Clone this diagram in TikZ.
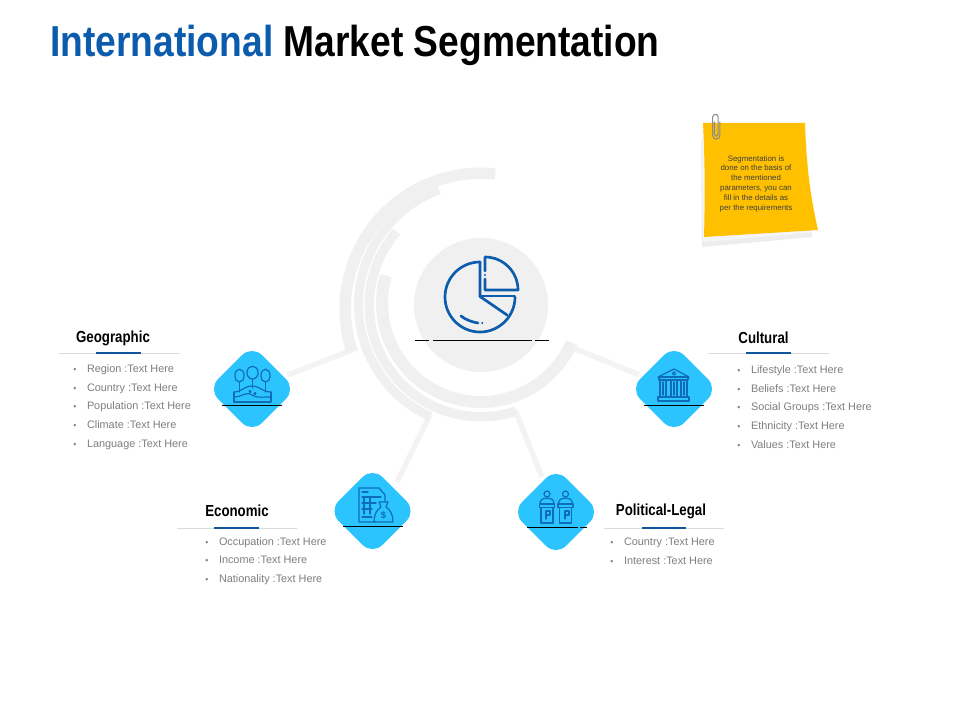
\documentclass[tikz,border=0pt]{standalone}
\usepackage{fontspec}
\setmainfont{Liberation Sans}
\newfontfamily\narrowbold[FakeStretch=0.83]{Liberation Sans Bold}
\newfontfamily\titlebold[FakeStretch=0.858]{Liberation Sans Bold}
\definecolor{ringgray}{HTML}{F0F0F0}
\definecolor{titleblue}{HTML}{0B5CAD}
\definecolor{headblue}{HTML}{11559F}
\definecolor{iconblue}{HTML}{0F6CB8}
\definecolor{diamondblue}{HTML}{2CC4FF}
\definecolor{notey}{HTML}{FFC000}
\definecolor{listgray}{HTML}{7F7F7F}
\tikzset{
  ring/.style={draw=ringgray,line width=#1*0.75pt},
  conn/.style={draw=ringgray!80,line width=4pt,shorten >=3pt},
  badge/.style={shape=rectangle,fill=diamondblue,rotate=45,minimum size=46.5pt,rounded corners=10.5pt,inner sep=0pt},
  heading/.style={font=\narrowbold\fontsize{12}{14}\selectfont,inner sep=0pt,text=black},
  itemlist/.style={font=\fontsize{8.15}{14}\selectfont,text=listgray,align=left,inner sep=0pt,anchor=west},
  rule/.style={draw=black,line width=0.75pt},
  hair/.style={draw=black!14,line width=0.6pt},
  accent/.style={draw=headblue,line width=2.2pt},
  icon/.style={draw=iconblue,line width=0.9pt,line join=round,line cap=round},
  pie/.style={draw=titleblue,line width=2pt,line cap=round,line join=round},
}
\newcommand{\blt}{\makebox[10.3pt][l]{\fontsize{6.5}{6.5}\selectfont\textbullet}}
\newcommand{\podium}[1]{%
  \begin{scope}[shift={(#1,0)}]
    \draw[icon] (0,494) circle[radius=3];
    \draw[icon] (-7,504) .. controls (-7,499) and (-3,498) .. (0,498) .. controls (3,498) and (7,499) .. (7,504);
    \draw[icon] (-7.5,504) rectangle (7.5,507.5);
    \draw[icon] (-6,507.5) -- (-6,523) -- (6,523) -- (6,507.5);
  \end{scope}}
\begin{document}
\begin{tikzpicture}[x=0.75pt,y=-0.75pt]
\useasboundingbox (0,0) rectangle (960,720);
\fill[white] (0,0) rectangle (960,720);
% title
\node[anchor=base west,inner sep=0pt,font=\titlebold\fontsize{32.5}{36}\selectfont] (title) at (50,57) {\textcolor{titleblue}{International} \textcolor{black}{Market Segmentation}};
% connectors' ends
\coordinate (gA) at (357,348);
\coordinate (cA) at (566,345);
\coordinate (eA) at (430,415);
\coordinate (eB) at (397,482);
\coordinate (pA) at (515,410);
% badges
\node[badge] (geo) at (252,389) {};
\node[badge] (cul) at (674,389) {};
\node[badge] (eco) at (372.5,511) {};
\node[badge] (pol) at (556,512) {};
% connectors
\draw[conn] (gA) -- (geo);
\draw[conn] (cA) -- (cul);
\draw[conn,shorten >=0pt] (eA) -- (eB);
\draw[conn] (pA) -- (pol);
% rings
\draw[ring=11.5] (276:135.75) ++(481,309) arc[start angle=276,end angle=162,radius=135.75];
\draw[ring=9] (250:122.5) ++(481,305) arc[start angle=250,end angle=114.5,radius=122.5];
\draw[ring=9.5] (221:111.75) ++(481,305) arc[start angle=221,end angle=72,radius=111.75];
\draw[ring=12] (196:99) ++(481,303) arc[start angle=196,end angle=23.7,radius=99];
% hub
\node[circle,fill=ringgray,minimum size=100.5pt,inner sep=0pt] (hub) at (481,305) {};
\draw[pie] (480,262) arc[start angle=-90,end angle=-270,radius=35] arc[start angle=90,end angle=0,radius=35];
\draw[pie] (480,262) -- (480,296.5) -- (507,315);
\draw[pie] (480,296) -- (514.5,296);
\draw[pie] (485,257) -- (485,271) (485,279) -- (485,290) -- (518,290) arc[start angle=0,end angle=-90,radius=33];
\fill[titleblue] (485,275) circle[radius=1.1] (482.3,323) circle[radius=1.1];
\draw[pie] (461,316) .. controls (466,320) and (472,322) .. (478,323);
\draw[rule] (415,340) -- (429,340) (433,340) -- (532,340) (535,340) -- (549,340);
% note
\fill[black!7] (701,140) -- (702,247) -- (812,237) -- (806,140) -- cycle;
\fill[white!96!black] (702,130) -- (703,242) -- (810,233) -- (806,130) -- cycle;
\fill[notey] (703,123) -- (805,123) .. controls (806,165) and (811,200) .. (818,230) -- (704,237) .. controls (705,200) and (705,160) .. (703,123) -- cycle;
\draw[draw=black!45,line width=0.8pt,line cap=round] (714.5,122) -- (714.5,134.5) arc[start angle=180,end angle=0,radius=1.8] -- (718.1,117) arc[start angle=0,end angle=-180,radius=2.7] -- (712.7,135.5) arc[start angle=180,end angle=0,radius=3.6] -- (719.9,122);
\node[font=\fontsize{5.9}{7.35}\selectfont,align=center,inner sep=0pt,text=black!75] (note) at (756,183.5) {Segmentation  is\\done on the basis of\\the mentioned\\parameters, you can\\fill in the details as\\per the requirements};
% Geographic
\node[heading] (h1) at (113,338) {Geographic};
\draw[hair] (59,353) -- (180,353);
\draw[accent] (96,353) -- (141,353);
\node[itemlist] (l1) at (73,407) {\blt Region :Text Here\\\blt Country :Text Here\\\blt Population  :Text Here\\\blt Climate  :Text Here\\\blt Language :Text Here};
% Cultural
\node[heading] (h2) at (763.5,338) {Cultural};
\draw[hair] (708,353) -- (829,353);
\draw[accent] (746,353) -- (791,353);
\node[itemlist] (l2) at (737,407) {\blt Lifestyle :Text Here\\\blt Beliefs :Text Here\\\blt Social Groups :Text Here\\\blt Ethnicity :Text Here\\\blt Values :Text Here};
% Economic
\node[heading] (h3) at (237,511) {Economic};
\draw[hair] (177,528) -- (297,528);
\draw[accent] (214,528) -- (259,528);
\node[itemlist] (l3) at (205,561) {\blt Occupation :Text Here\\\blt Income  :Text Here\\\blt Nationality  :Text Here};
% Political
\node[heading] (h4) at (661,511) {Political-Legal};
\draw[hair] (604,528) -- (724,528);
\draw[accent] (642,528) -- (686,528);
\node[itemlist] (l4) at (610,551.5) {\blt Country :Text Here\\\blt Interest :Text Here};
% badge rules
\draw[rule] (222,405) -- (282,405);
\draw[rule] (644,405) -- (704,405);
\draw[rule] (343,526) -- (403,526);
\draw[rule] (527,527) -- (578,527) (580,527) -- (587,527);
% trees icon
\foreach \cx/\cy/\hw/\tr in {239.5/376/4.6/392, 252.5/373/5.6/388, 265.5/376/4.6/392}{
  \draw[icon] (\cx-\hw,\cy) .. controls (\cx-\hw,\cy-9) and (\cx+\hw,\cy-9) .. (\cx+\hw,\cy) .. controls (\cx+\hw,\cy+3) and (\cx+3,\cy+6) .. (\cx,\cy+6) .. controls (\cx-3,\cy+6) and (\cx-\hw,\cy+3) .. (\cx-\hw,\cy) -- cycle;
  \draw[icon] (\cx,\cy+6) -- (\cx,\tr);
}
\draw[icon] (234,392) .. controls (242,392) and (244,386) .. (252,386) .. controls (260,386) and (262,392) .. (271,392);
\draw[icon] (234,392) -- (234,402) -- (271,402) -- (271,392);
\draw[icon] (234,397) .. controls (242,397) and (246,391) .. (252,395) .. controls (256,398) and (262,397) .. (271,397);
\draw[icon] (250,391.5) circle[radius=1] (255,393.5) circle[radius=1];
% temple icon
\draw[icon] (658,377) -- (674,369) -- (689,377) -- cycle;
\draw[icon] (674,373.5) circle[radius=1.6];
\draw[icon] (659,377) rectangle (688,380);
\foreach \c in {660,671,681}{\draw[icon] (\c,380) rectangle (\c+6,397);\draw[icon] (\c+3,382) -- (\c+3,395);}
\draw[icon] (658,397) rectangle (689,401);
% document and bag icon
\draw[icon] (375,522) -- (359,522) -- (359,488) -- (379,488) -- (385,495) -- (385,501);
\draw[icon] (362,492) -- (368,492) (362,497) -- (381,497) (362,503) -- (376,503) (362,509) -- (372,509) (362,517) -- (372,517);
\draw[icon] (364,497) -- (364,514) (370,497) -- (370,514);
\draw[icon] (379,502) -- (388,502) -- (386,507) .. controls (391,510) and (393,516) .. (393,522) -- (374,522) .. controls (374,516) and (376,510) .. (381,507) -- cycle;
\node[inner sep=0pt,text=iconblue,font=\bfseries\fontsize{7}{7}\selectfont] (dollar) at (383.5,515) {\$};
% podiums icon
\podium{547}
\podium{565.5}
\draw[icon] (546,511) -- (546,519) (546,511) -- (550,511) -- (550,515) -- (546,515);
\draw[icon] (565,511) -- (565,519) (565,511) -- (569,511) -- (569,515) -- (565,515);
\end{tikzpicture}
\end{document}
